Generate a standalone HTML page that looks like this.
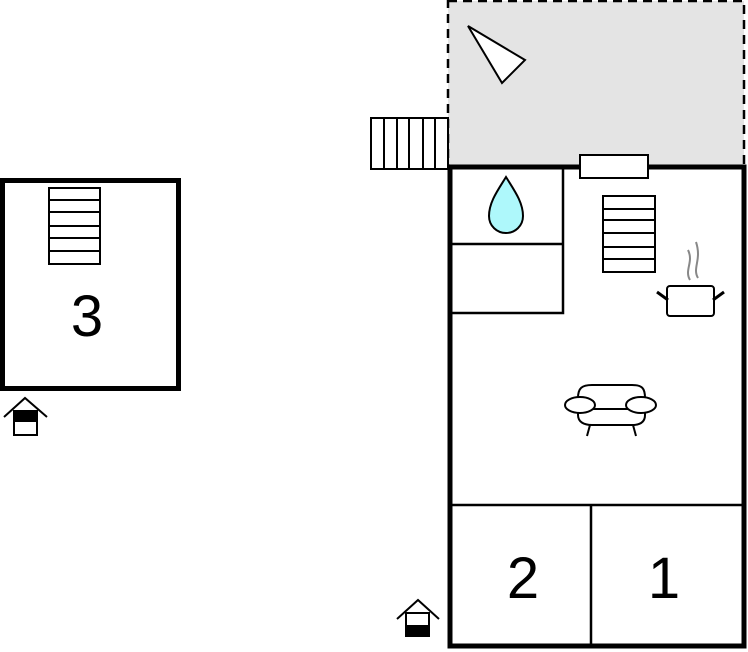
<!DOCTYPE html>
<html><head><style>body{margin:0;background:#fff}svg{display:block}</style></head><body>
<svg width="748" height="652" viewBox="0 0 748 652" xmlns="http://www.w3.org/2000/svg" font-family="Liberation Sans, sans-serif">
<!-- terrace -->
<rect x="448" y="1" width="296" height="165" fill="#e4e4e4" stroke="#000" stroke-width="2.5" stroke-dasharray="9,6"/>
<polygon points="468,26 525,60 502,83" fill="#fff" stroke="#000" stroke-width="2"/>
<!-- outer stairs -->
<rect x="371" y="118" width="77" height="51" fill="#fff" stroke="#000" stroke-width="2"/>
<g stroke="#000" stroke-width="2"><line x1="384" y1="118" x2="384" y2="169"/><line x1="397" y1="118" x2="397" y2="169"/><line x1="409" y1="118" x2="409" y2="169"/><line x1="423" y1="118" x2="423" y2="169"/><line x1="435" y1="118" x2="435" y2="169"/></g>
<!-- main building -->
<rect x="450" y="167" width="294" height="479" fill="#fff" stroke="#000" stroke-width="5"/>
<rect x="450" y="167" width="113" height="146" fill="none" stroke="#000" stroke-width="2.5"/>
<line x1="450" y1="244" x2="563" y2="244" stroke="#000" stroke-width="2.5"/>
<line x1="450" y1="505" x2="744" y2="505" stroke="#000" stroke-width="2.5"/>
<line x1="591" y1="505" x2="591" y2="646" stroke="#000" stroke-width="2.5"/>
<rect x="580" y="155" width="68" height="23" fill="#fff" stroke="#000" stroke-width="2"/>
<!-- drop -->
<path d="M506,177 C498,190 489,202 489,216 C489,226 497,233 506,233 C515,233 523,226 523,216 C523,202 514,190 506,177 Z" fill="#aef8fb" stroke="#000" stroke-width="2"/>
<!-- kitchen stairs -->
<rect x="603" y="196" width="52" height="76" fill="#fff" stroke="#000" stroke-width="2"/>
<g stroke="#000" stroke-width="2"><line x1="603" y1="209" x2="655" y2="209"/><line x1="603" y1="220" x2="655" y2="220"/><line x1="603" y1="233" x2="655" y2="233"/><line x1="603" y1="247" x2="655" y2="247"/><line x1="603" y1="259" x2="655" y2="259"/></g>
<!-- pot -->
<path d="M690,280 C684,270 694,262 688,250 M698,278 C692,268 702,260 696,242" fill="none" stroke="#888" stroke-width="2"/>
<rect x="667" y="286" width="47" height="30" rx="3" fill="#fff" stroke="#000" stroke-width="2"/>
<line x1="657" y1="292" x2="668" y2="300" stroke="#000" stroke-width="3"/>
<line x1="724" y1="292" x2="713" y2="300" stroke="#000" stroke-width="3"/>
<!-- sofa -->
<g fill="#fff" stroke="#000" stroke-width="2">
<path d="M578,398 C578,388 582,385 592,385 L632,385 C642,385 645,388 645,398 L645,415 C645,422 640,425 632,425 L592,425 C584,425 578,422 578,415 Z"/>
<line x1="585" y1="409" x2="638" y2="409"/>
<ellipse cx="580" cy="405" rx="15" ry="8"/>
<ellipse cx="641" cy="405" rx="15" ry="8"/>
<line x1="590" y1="425" x2="587" y2="436"/><line x1="633" y1="425" x2="636" y2="436"/>
</g>
<text x="523" y="598" font-size="58" text-anchor="middle">2</text>
<text x="664" y="598" font-size="58" text-anchor="middle">1</text>
<!-- entrance main -->
<polyline points="397,619 418,600 439,619" fill="none" stroke="#000" stroke-width="2"/>
<rect x="406" y="613" width="23" height="23" fill="#fff" stroke="#000" stroke-width="2"/>
<rect x="406" y="625" width="23" height="11" fill="#000"/>
<!-- left building -->
<rect x="2.5" y="180.5" width="176" height="208" fill="#fff" stroke="#000" stroke-width="5"/>
<rect x="49" y="188" width="51" height="76" fill="#fff" stroke="#000" stroke-width="2"/>
<g stroke="#000" stroke-width="2"><line x1="49" y1="200" x2="100" y2="200"/><line x1="49" y1="212" x2="100" y2="212"/><line x1="49" y1="226" x2="100" y2="226"/><line x1="49" y1="238" x2="100" y2="238"/><line x1="49" y1="251" x2="100" y2="251"/></g>
<text x="87" y="336" font-size="58" text-anchor="middle">3</text>
<polyline points="4,417 25,398 47,417" fill="none" stroke="#000" stroke-width="2"/>
<rect x="14" y="411" width="23" height="24" fill="#fff" stroke="#000" stroke-width="2"/>
<rect x="14" y="411" width="23" height="11" fill="#000"/>
</svg>
</body></html>
